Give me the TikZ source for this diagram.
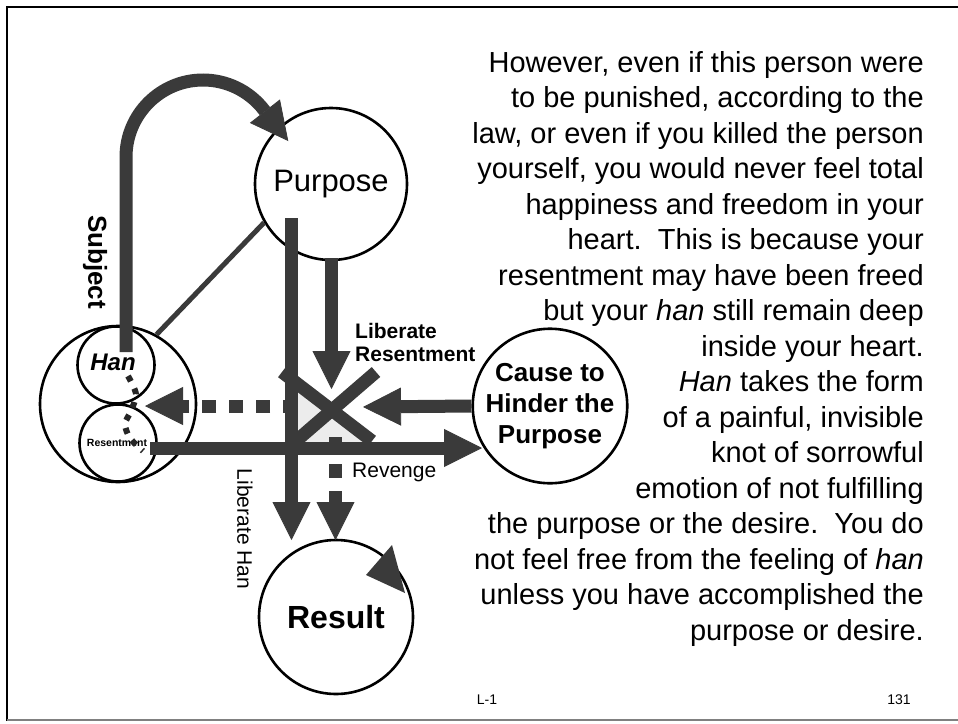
\documentclass[tikz,border=0pt]{standalone}
\usepackage{fontspec}
\setmainfont{Liberation Sans}
\usetikzlibrary{arrows.meta,calc}
\definecolor{ar}{HTML}{3A3A3A}
\tikzset{
  circ/.style={circle, draw=black, line width=2.6pt, fill=white, inner sep=0pt},
  shaft/.style={draw=ar, line width=13pt},
  blk/.style={draw=ar, line width=13pt, -{Triangle[length=38pt,width=38pt,line width=0.8pt]}},
  dsh/.style={blk, dash pattern=on 14pt off 13pt},
  lbl/.style={inner sep=0pt},
}
\begin{document}
\begin{tikzpicture}[x=1pt,y=-1pt]
\useasboundingbox (0,0) rectangle (958,723);
\fill[white] (0,0) rectangle (958,723);
% frame
\draw[line width=2pt] (958,7) -- (7,7) -- (7,721);
\draw[gray, line width=1.2pt] (7,720) -- (958,720);

% circles
\node[circ, minimum size=152pt, font=\fontsize{31}{31}\selectfont] (purpose) at (331,184) {Purpose};
\node[circ, minimum size=156pt] (hanout) at (118,404) {};
\node[circ, minimum size=77pt] (han) at (116,365) {};
\node[circ, minimum size=77pt] (resent) at (118,443) {};
\node[lbl, font=\bfseries\itshape\fontsize{24}{24}\selectfont] (hantxt) at (113,362) {Han};
\node[lbl, font=\bfseries\fontsize{10.5}{10.5}\selectfont] (restxt) at (117,443) {Resentment};
\node[circ, minimum size=152pt, align=center, font=\bfseries\fontsize{26}{31}\selectfont] (cause) at (550,406) {Cause to\\Hinder the\\Purpose};
\node[circ, minimum size=154pt, font=\bfseries\fontsize{32}{32}\selectfont] (result) at (336,617) {Result};

% link line Han -- Purpose
\draw[draw=ar, line width=5pt] (hanout.61) -- (purpose.210);

% light fills inside the cross
\fill[gray!15] (298,390) -- (324,410) -- (298,430) -- cycle;
\fill[gray!15] (300,442) -- (331,414) -- (362,442) -- cycle;

% cross
\draw[shaft] (282,372) -- (372,441);
\draw[shaft] (376,372) -- (296,441);

% coordinates
\coordinate (sbStart) at (126,352);
\coordinate (lhTop) at (291.5,218);
\coordinate (lhEnd) at (291.5,540);
\coordinate (lrEnd) at (331.5,389);
\coordinate (chEnd) at (363,407);
\coordinate (rsStart) at (150,448);
\coordinate (rsEnd) at (482,448);
\coordinate (dlStart) at (297,406);
\coordinate (dlEnd) at (145,406);
\coordinate (rvStart) at (335.5,437);
\coordinate (rvEnd) at (335.5,540);

% Subject arrow
\draw[blk] (sbStart) -- (126,157) .. controls (126,114.5) and (160.5,80) .. (203,80)
  .. controls (226.7,80) and (249.1,90.9) .. (263.7,109.6) -- ++(24.6,31.5);

% Liberate Han
\draw[blk] (lhTop) -- (lhEnd);
% Liberate Resentment
\draw[blk] ($(purpose.south)+(0.5,-3)$) -- (lrEnd);
% Cause -> cross
\draw[blk] (cause.west) -- (chEnd);
% Resentment -> Cause
\draw[blk] (rsStart) -- (rsEnd);
% dashed to Han
\draw[dsh] (dlStart) -- (dlEnd);
% Revenge dashed
\draw[dsh] (rvStart) -- (rvEnd);

% dotted path inside Han
\draw[draw=black!85, line width=6pt, dash pattern=on 6pt off 8pt]
  plot[smooth] coordinates {(128,376) (136,394) (131,411) (125,424) (130,438) (143,451)};

% loop arrow on Result
\fill[ar] ($(result.center)+(30,-42)$) -- ($(result.center)+(56,-72)$) -- ($(result.center)+(69,-24)$) -- cycle;

% labels
\node[lbl, rotate=-90, font=\bfseries\fontsize{26}{26}\selectfont] (subj) at (95,262) {Subject};
\node[lbl, anchor=west, align=left, font=\bfseries\fontsize{21}{23}\selectfont] (lrlbl) at (355,342) {Liberate\\Resentment};
\node[lbl, rotate=-90, font=\fontsize{21}{21}\selectfont] (lhlbl) at (245,529) {Liberate Han};
\node[lbl, anchor=west, font=\fontsize{21}{21}\selectfont] (revlbl) at (352,472) {Revenge};

% paragraph
\node[anchor=north east, align=right, inner sep=0pt, font=\fontsize{29}{35.5}\selectfont] (para) at (924,51)
{However, even if this person were\\
to be punished, according to the\\
law, or even if you killed the person\\
yourself, you would never feel total\\
happiness and freedom in your\\
heart.\ \ This is because your\\
resentment may have been freed\\
but your \textit{han} still remain deep\\
inside your heart.\\
\textit{Han} takes the form\\
of a painful, invisible\\
knot of sorrowful\\
emotion of not fulfilling\\
the purpose or the desire.\ \ You do\\
not feel free from the feeling of \textit{han}\\
unless you have accomplished the\\
purpose or desire.};

\node[lbl, font=\fontsize{14}{14}\selectfont] (l1) at (487,700) {L-1};
\node[lbl, font=\fontsize{14}{14}\selectfont] (pg) at (899,700) {131};
\end{tikzpicture}
\end{document}
